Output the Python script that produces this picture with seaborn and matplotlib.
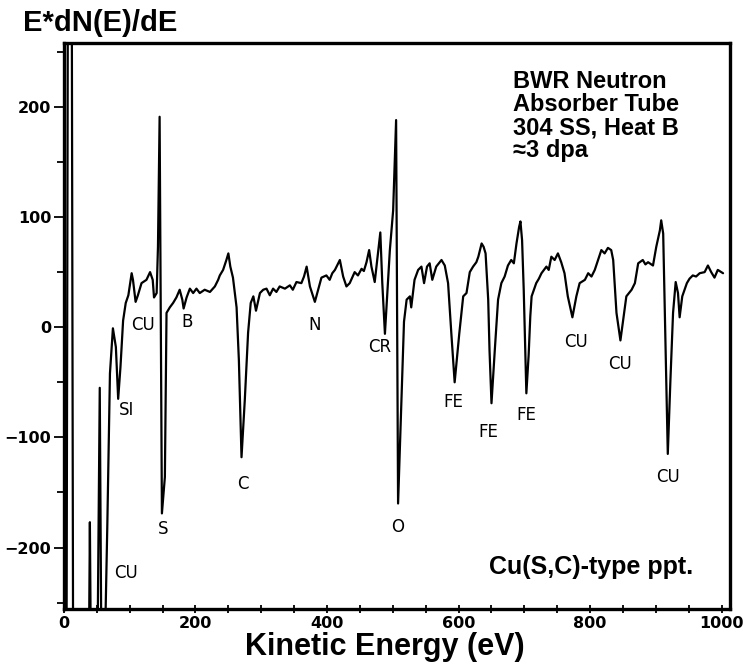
import matplotlib
matplotlib.use("Agg")
import matplotlib.pyplot as plt
import seaborn as sns
from matplotlib.ticker import MultipleLocator

# Auger spectrum (eV, E*dN(E)/dE)
energy_ev = [4, 6, 12, 14,
             38, 39.5, 41, 51, 54.5, 57,
             62, 66, 70, 74.5, 79, 82.5, 86, 90, 94, 98, 103, 105, 109, 112.5,
             118, 125.5, 131, 135, 137, 141, 143, 145.5, 149, 153.5, 156, 161,
             166, 171, 176, 180, 182, 186.5, 191.5, 196.5, 201.5, 206.5, 214,
             222, 229.5, 234.5, 237, 242, 247, 250, 253, 257, 262.5, 266, 270,
             275, 280, 284, 288, 292, 298, 303, 308, 313, 318, 323, 328, 336,
             343.5, 348, 353.5, 361, 365, 369, 374, 381.5, 386.5, 391.5, 399,
             404, 408, 412, 419.5, 424.5, 429.5, 434.5, 442, 447, 452.5, 456,
             460, 464, 467.5, 472.5, 477.5, 481,
             484, 488, 491, 495.5, 500.5, 505, 508, 513, 517, 521, 526, 528, 533,
             538.5, 543.5, 547.5, 552, 556, 560, 566, 574, 579, 584, 589, 594,
             601, 607, 612, 617, 622, 627, 630, 635, 638, 641, 645, 647, 650,
             655, 660, 665, 670, 675, 680, 684, 688, 692, 694, 696.5, 699, 703,
             706.5, 709, 711, 718, 722, 726, 733.5, 737, 741, 746, 751, 756, 761,
             766, 773, 779, 784, 792, 797, 802, 807, 812, 817, 822, 827, 832,
             835, 840, 846, 850, 855, 863, 868, 873, 880, 884, 888, 895.5, 900.5,
             906, 908, 911, 913, 918, 922, 926, 930, 933.5, 936, 940, 947, 951,
             956, 961, 966.5, 974, 979, 984, 989, 994, 1002]
signal = [-300, 300, 300, -300,
          -300, -177, -300, -300, -55, -300,
          -300, -180, -42, -1, -18, -65, -36, 6, 22, 29, 49, 43, 23, 29,
          40, 43, 50, 43, 27, 31, 73, 191, -169, -136, 13, 18,
          22, 27, 34, 25, 17, 27, 35, 31, 35, 31, 34,
          32, 37, 43, 47, 52, 61, 67, 55, 45, 18, -30, -118,
          -66, -5, 22, 28, 15, 31, 34, 35, 29, 35, 32, 37, 35,
          38, 34, 41, 40, 46, 55, 37, 23, 34, 45, 47,
          43, 49, 52, 61, 46, 37, 40, 50, 47, 53, 51,
          59, 70, 55, 41, 67, 86,
          40, -6, 25, 70, 106, 188, -160, -70, 5, 25, 28, 18, 43,
          52, 55, 40, 55, 58, 43, 55, 61, 56, 40, -6, -50,
          -6, 28, 31, 50, 55, 59, 64, 76, 73, 67, 25, -21, -69,
          -21, 25, 40, 46, 56, 61, 58, 76, 91, 96, 79, 34, -60,
          -25, 10, 28, 40, 44, 49, 55, 52, 64, 61, 67, 59, 49,
          28, 9, 28, 40, 43, 49, 46, 52, 61, 70, 67, 72, 70,
          61, 13, -12, 6, 28, 34, 40, 58, 61, 57, 59, 56, 73,
          88, 97, 85, 28, -115, -48, 13, 41, 31, 9, 28, 40, 44,
          47, 46, 49, 50, 56, 50, 45, 52, 49]

peak_names = ["CU", "SI", "B", "S", "CU", "C", "N", "CR", "O",
              "FE", "FE", "FE", "CU", "CU", "CU"]
peak_x = [120, 95, 186.5, 151, 95, 272.5, 381.5, 480, 508,
          591.5, 645, 703, 779, 845, 918]
peak_y = [2, -75, 5, -183, -223, -142, 2, -18, -181,
          -68, -95, -80, -13, -33, -136]

sample_note = "BWR Neutron\nAbsorber Tube\n304 SS, Heat B\n\u22483 dpa"
ppt_note = "Cu(S,C)-type ppt."

sns.set_style("ticks")
plt.rcParams["font.family"] = ["Liberation Sans", "DejaVu Sans"]
plt.rcParams["text.color"] = "black"
plt.rcParams["axes.labelcolor"] = "black"
plt.rcParams["xtick.color"] = "black"
plt.rcParams["ytick.color"] = "black"

fig = plt.figure(figsize=(7.43, 6.71), dpi=100)
ax = fig.add_axes([0.086, 0.092, 0.896, 0.844])

sns.lineplot(x=energy_ev, y=signal, sort=False, estimator=None,
             color="black", linewidth=1.6, ax=ax)

ax.set_xlim(0, 1012)
ax.set_ylim(-256, 258)

ax.xaxis.set_major_locator(MultipleLocator(200))
ax.xaxis.set_minor_locator(MultipleLocator(50))
ax.yaxis.set_major_locator(MultipleLocator(100))
ax.yaxis.set_minor_locator(MultipleLocator(50))
ax.tick_params(axis="x", which="both", direction="inout", length=6, width=1.3,
               pad=2)
ax.tick_params(axis="y", which="major", direction="out", length=7, width=1.3,
               pad=2)
ax.tick_params(axis="y", which="minor", direction="out", length=5, width=1.3)
for lab in ax.get_xticklabels() + ax.get_yticklabels():
    lab.set_family("DejaVu Sans")
    lab.set_fontweight("bold")
    lab.set_fontsize(11.5)

for sp in ax.spines.values():
    sp.set_linewidth(2.4)
    sp.set_color("black")

for name, x, y in zip(peak_names, peak_x, peak_y):
    ax.text(x, y, name, ha="center", va="center", fontsize=12,
            family="DejaVu Sans")

ax.text(682, 233, sample_note, ha="left", va="top", fontsize=17,
        fontweight="bold", linespacing=1.0)
ax.text(957, -218, ppt_note, ha="right", va="center", fontsize=18,
        fontweight="bold")

ax.set_xlabel("Kinetic Energy (eV)", fontsize=22, fontweight="bold")
ax.xaxis.set_label_coords(0.482, -0.04)
ax.set_ylabel("")
fig.text(0.031, 0.966, "E*dN(E)/dE", fontsize=21, fontweight="bold",
         ha="left", va="center")

fig.savefig("out.png", dpi=100)
